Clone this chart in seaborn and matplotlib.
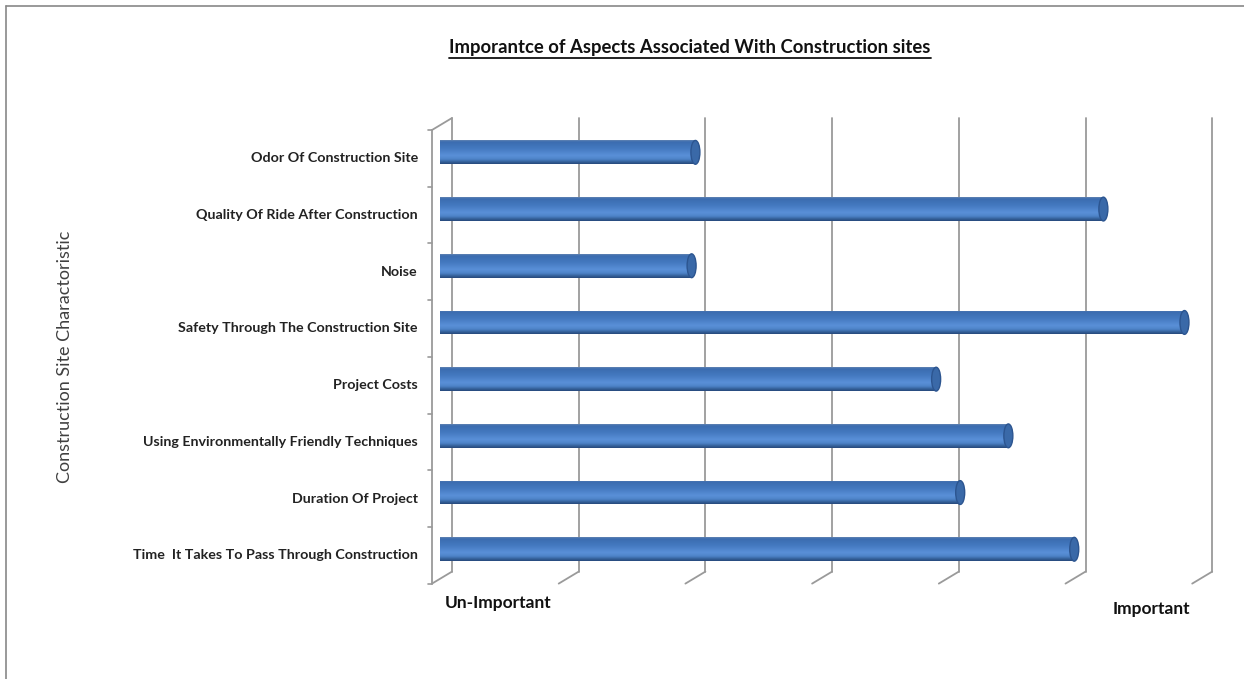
import numpy as np
import pandas as pd
import seaborn as sns
from matplotlib import pyplot as plt
from matplotlib.colors import LinearSegmentedColormap
from matplotlib.patches import Ellipse
from matplotlib.lines import Line2D

# data (scale: 0 = un-important ... 6 = important)
categories = [
    'Odor Of Construction Site',
    'Quality Of Ride After Construction',
    'Noise',
    'Safety Through The Construction Site',
    'Project Costs',
    'Using Environmentally Friendly Techniques',
    'Duration Of Project',
    'Time  It Takes To Pass Through Construction',
]
importance = [2.0, 5.22, 1.97, 5.86, 3.9, 4.47, 4.09, 4.99]
grid_ticks = [0, 1, 2, 3, 4, 5, 6]

W, H = 1244, 679
XU = 126.7   # px per value unit
YU = 56.7    # px per category
DX = 10 / XU  # 3d depth offset (half), x
DY = 6 / YU   # 3d depth offset (half), y
GRID = '#9a9a9a'

sns.set_theme(style='white')
plt.rcParams['font.family'] = ['Lato', 'DejaVu Sans']

fig = plt.figure(figsize=(W / 100, H / 100), dpi=100)
ax = fig.add_axes([442 / W, 1 - (124 + 8 * YU) / H, 6 * XU / W, 8 * YU / H])

df = pd.DataFrame({'aspect': categories, 'value': importance})
sns.barplot(data=df, x='value', y='aspect', orient='h', width=0.42,
            color='#4f81bd', ax=ax, zorder=3)

ax.set_xlim(0, 6)
ax.set_ylim(len(categories) - 0.5, -0.5)
ax.set_xticks([])
ax.set_yticks([])
ax.set_xlabel('')
ax.set_ylabel('')
for s in ax.spines.values():
    s.set_visible(False)

# back wall gridlines + floor diagonals
y_top, y_bot = -0.5, len(categories) - 0.5
for k in grid_ticks:
    ax.plot([k + DX, k + DX], [y_top - DY, y_bot - DY], color=GRID, lw=1.3,
            clip_on=False, zorder=1)
    ax.plot([k + DX, k - DX], [y_bot - DY, y_bot + DY], color=GRID, lw=1.3,
            clip_on=False, zorder=1)

# front left axis
ax.plot([-DX, -DX], [y_top + DY, y_bot + DY], color=GRID, lw=1.3, clip_on=False)
ax.plot([-DX, DX], [y_top + DY, y_top - DY], color=GRID, lw=1.3, clip_on=False)
for b in np.arange(y_top, y_bot + 0.01, 1.0):
    ax.plot([-DX - 4 / XU, -DX], [b + DY, b + DY], color=GRID, lw=1.2, clip_on=False)

# cylinder shading
shade = LinearSegmentedColormap.from_list('cyl', [
    (0.0, '#5f82b2'), (0.07, '#3b6cb0'), (0.35, '#4479c0'),
    (0.65, '#5a90d8'), (0.8, '#4e84c9'), (0.92, '#345f98'), (1.0, '#274a7c')])
grad = np.linspace(0, 1, 64).reshape(-1, 1)
cap_w = 9 / XU
for patch in ax.patches[:len(categories)]:
    x0, y0 = patch.get_x(), patch.get_y()
    w, h = patch.get_width(), patch.get_height()
    yc = y0 + h / 2
    x0 = x0 - 2 / XU
    w = w + 2 / XU
    patch.set_x(x0)
    patch.set_width(w)
    im = ax.imshow(grad, cmap=shade, aspect='auto', extent=(x0, x0 + w, y0 + h, y0),
                   zorder=4, interpolation='bilinear')
    im.set_clip_path(patch)
    left = Ellipse((x0, yc), cap_w, h, facecolor='none', edgecolor='none', zorder=4)
    ax.add_patch(left)
    im2 = ax.imshow(grad, cmap=shade, aspect='auto',
                    extent=(x0 - cap_w, x0 + cap_w, y0 + h, y0), zorder=4,
                    interpolation='bilinear')
    im2.set_clip_path(left)
    patch.set_alpha(0)
    ax.add_patch(Ellipse((x0 + w, yc), cap_w, h, facecolor='#3a69a8',
                         edgecolor='#2c5590', lw=1.0, zorder=5))

ax.set_xlim(0, 6)
ax.set_ylim(len(categories) - 0.5, -0.5)

# category labels on the front plane
for i, name in enumerate(categories):
    ax.text(-DX - 14 / XU, i + DY, name, ha='right', va='center',
            fontsize=10.3, fontweight='bold', color='#222222', clip_on=False)

fig.text(445 / W, 1 - 603 / H, 'Un-Important', ha='left', va='center',
         fontsize=12.5, fontweight='bold', color='#111111')
fig.text(1113 / W, 1 - 609 / H, 'Important', ha='left', va='center',
         fontsize=12.5, fontweight='bold', color='#111111')

fig.text(65 / W, 1 - 357 / H, 'Construction Site Charactoristic', rotation=90,
         ha='center', va='center', fontsize=13, color='#404040')

title = fig.text(690 / W, 1 - 48 / H,
                 'Imporantce of Aspects Associated With Construction sites',
                 ha='center', va='center', fontsize=13.3, fontweight='bold',
                 color='#111111')

# chart border (top and left edges visible)
fig.add_artist(Line2D([6 / W, 1], [1 - 6 / H, 1 - 6 / H], color='#888888', lw=1.2))
fig.add_artist(Line2D([6 / W, 6 / W], [0, 1 - 6 / H], color='#888888', lw=1.2))

# underline the title
fig.canvas.draw()
bb = title.get_window_extent()
uy = (bb.y0 - 1) / H
fig.add_artist(Line2D([bb.x0 / W, bb.x1 / W], [uy, uy], color='#111111', lw=1.3))

fig.savefig('out.png', dpi=100)
